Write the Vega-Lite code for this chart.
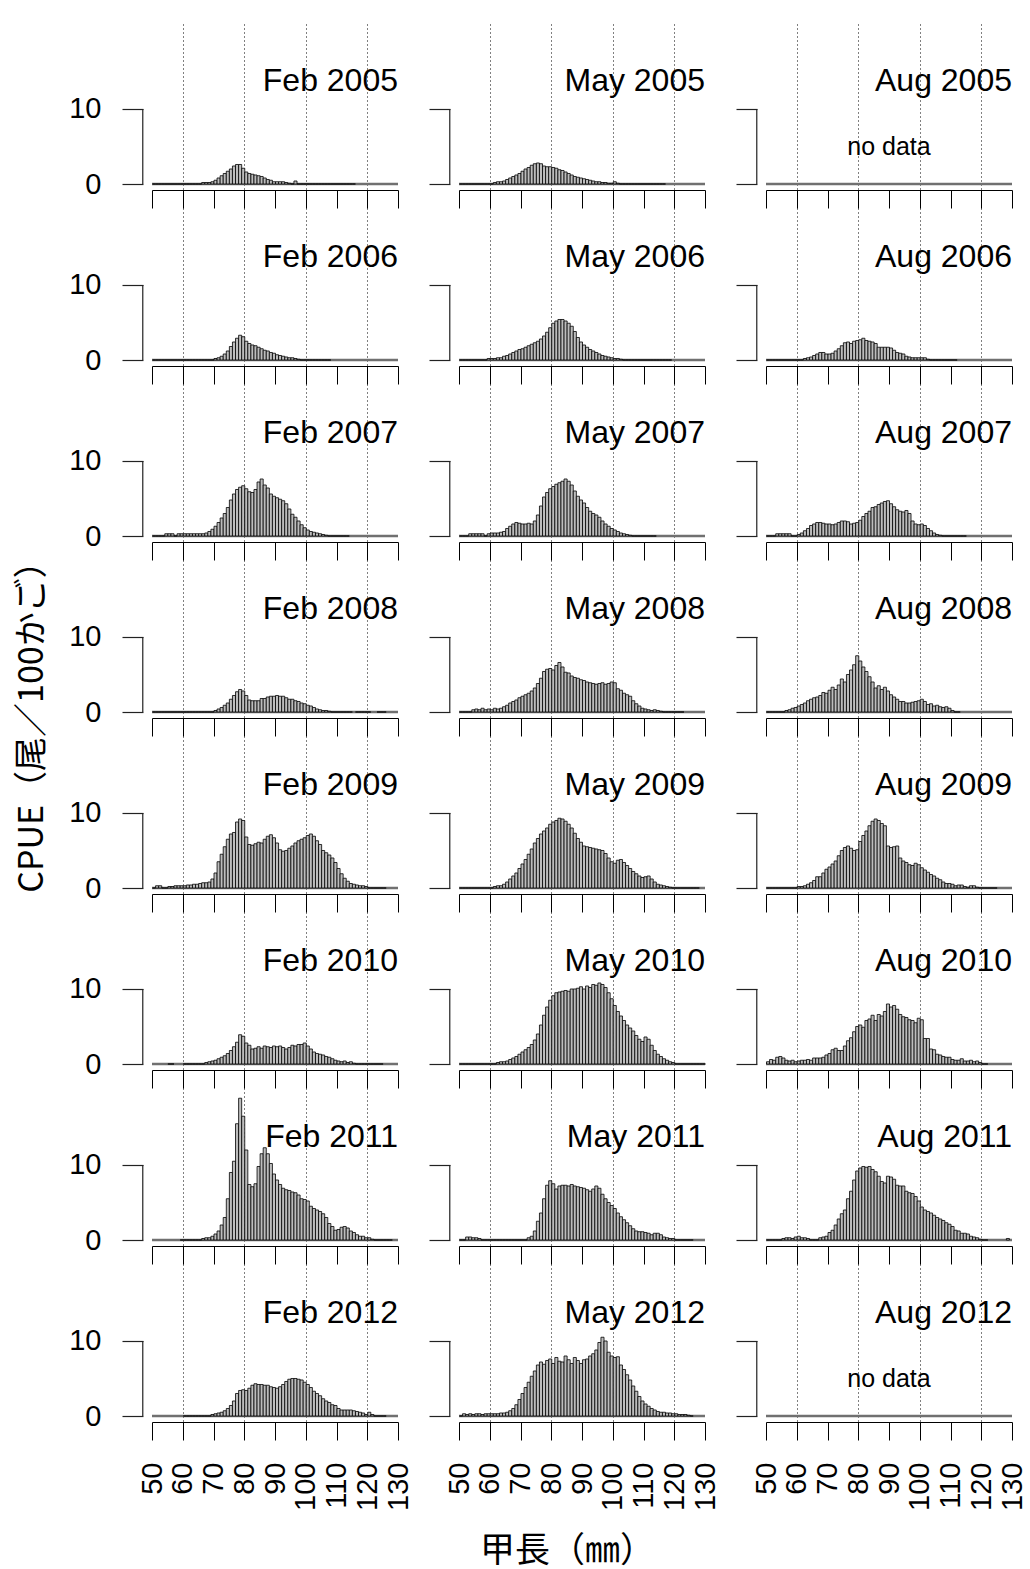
{
"$schema":"https://vega.github.io/schema/vega-lite/v6.json",
"padding":{"left":15,"top":18,"right":10,"bottom":5},
"background":"white",
"columns":3,
"spacing":{"row":10,"column":61},
"bounds":"flush",
"config":{
"view":{"stroke":null},
"axis":{"labelFont":"Liberation Sans","labelFontSize":29,"labelColor":"#000","labelOverlap":false,"labelFlush":false,"titleFont":"Noto Sans CJK JP","titleFontSize":34,"titleColor":"#000","titleFontWeight":"normal"},
"axisX":{"offset":6,"tickSize":18,"domainColor":"#000","domainWidth":1,"tickColor":"#000","tickWidth":1,"grid":true,"gridColor":"#000","gridDash":[1,3],"gridWidth":1,"labelAngle":270,"labelPadding":22},
"axisY":{"offset":9,"tickSize":21,"domain":false,"grid":false,"tickColor":"#222","tickWidth":1.2,"labelPadding":21}
},
"concat":[
{"width":246,"height":166,"layer":[{"data":{"values":[{}]},"mark":{"type":"rule","color":"#707070","strokeWidth":2.5},"encoding":{"y":{"datum":0}}},{"data":{"name":"feb2005"},"mark":{"type":"bar","fill":"#bdbdbd","stroke":"#000","strokeWidth":0.8,"binSpacing":0},"encoding":{"x":{"field":"len","type":"quantitative","bin":{"step":1,"extent":[50,131]},"scale":{"domain":[50,130]},"axis":{"values":[50,60,70,80,90,100,110,120,130],"title":null,"labels":false,"gridOpacity":{"condition":{"test":"datum.value==60||datum.value==80||datum.value==100||datum.value==120","value":1},"value":0}}},"y":{"field":"cpue","type":"quantitative","scale":{"domain":[0,22.13],"nice":false},"axis":{"values":[0,10],"title":null,"labels":true}}}},{"data":{"values":[{}]},"mark":{"type":"rule","color":"#222","strokeWidth":1.2},"encoding":{"x":{"datum":47},"y":{"datum":0},"y2":{"datum":10}}},{"data":{"values":[{}]},"mark":{"type":"text","align":"right","baseline":"alphabetic","fontSize":32,"font":"Liberation Sans","color":"#000"},"encoding":{"x":{"datum":130},"y":{"datum":12.4},"text":{"value":"Feb 2005"}}}]},
{"width":246,"height":166,"layer":[{"data":{"values":[{}]},"mark":{"type":"rule","color":"#707070","strokeWidth":2.5},"encoding":{"y":{"datum":0}}},{"data":{"name":"may2005"},"mark":{"type":"bar","fill":"#bdbdbd","stroke":"#000","strokeWidth":0.8,"binSpacing":0},"encoding":{"x":{"field":"len","type":"quantitative","bin":{"step":1,"extent":[50,131]},"scale":{"domain":[50,130]},"axis":{"values":[50,60,70,80,90,100,110,120,130],"title":null,"labels":false,"gridOpacity":{"condition":{"test":"datum.value==60||datum.value==80||datum.value==100||datum.value==120","value":1},"value":0}}},"y":{"field":"cpue","type":"quantitative","scale":{"domain":[0,22.13],"nice":false},"axis":{"values":[0,10],"title":null,"labels":false}}}},{"data":{"values":[{}]},"mark":{"type":"rule","color":"#222","strokeWidth":1.2},"encoding":{"x":{"datum":47},"y":{"datum":0},"y2":{"datum":10}}},{"data":{"values":[{}]},"mark":{"type":"text","align":"right","baseline":"alphabetic","fontSize":32,"font":"Liberation Sans","color":"#000"},"encoding":{"x":{"datum":130},"y":{"datum":12.4},"text":{"value":"May 2005"}}}]},
{"width":246,"height":166,"layer":[{"data":{"values":[{}]},"mark":{"type":"rule","color":"#707070","strokeWidth":2.5},"encoding":{"y":{"datum":0}}},{"data":{"name":"aug2005"},"mark":{"type":"bar","fill":"#bdbdbd","stroke":"#000","strokeWidth":0.8,"binSpacing":0},"encoding":{"x":{"field":"len","type":"quantitative","bin":{"step":1,"extent":[50,131]},"scale":{"domain":[50,130]},"axis":{"values":[50,60,70,80,90,100,110,120,130],"title":null,"labels":false,"gridOpacity":{"condition":{"test":"datum.value==60||datum.value==80||datum.value==100||datum.value==120","value":1},"value":0}}},"y":{"field":"cpue","type":"quantitative","scale":{"domain":[0,22.13],"nice":false},"axis":{"values":[0,10],"title":null,"labels":false}}}},{"data":{"values":[{}]},"mark":{"type":"rule","color":"#222","strokeWidth":1.2},"encoding":{"x":{"datum":47},"y":{"datum":0},"y2":{"datum":10}}},{"data":{"values":[{}]},"mark":{"type":"text","align":"right","baseline":"alphabetic","fontSize":32,"font":"Liberation Sans","color":"#000"},"encoding":{"x":{"datum":130},"y":{"datum":12.4},"text":{"value":"Aug 2005"}}},{"data":{"values":[{}]},"mark":{"type":"text","align":"center","baseline":"middle","fontSize":25,"font":"Liberation Sans","color":"#000"},"encoding":{"x":{"datum":90},"y":{"datum":4.9},"text":{"value":"no data"}}}]},
{"width":246,"height":166,"layer":[{"data":{"values":[{}]},"mark":{"type":"rule","color":"#707070","strokeWidth":2.5},"encoding":{"y":{"datum":0}}},{"data":{"name":"feb2006"},"mark":{"type":"bar","fill":"#bdbdbd","stroke":"#000","strokeWidth":0.8,"binSpacing":0},"encoding":{"x":{"field":"len","type":"quantitative","bin":{"step":1,"extent":[50,131]},"scale":{"domain":[50,130]},"axis":{"values":[50,60,70,80,90,100,110,120,130],"title":null,"labels":false,"gridOpacity":{"condition":{"test":"datum.value==60||datum.value==80||datum.value==100||datum.value==120","value":1},"value":0}}},"y":{"field":"cpue","type":"quantitative","scale":{"domain":[0,22.13],"nice":false},"axis":{"values":[0,10],"title":null,"labels":true}}}},{"data":{"values":[{}]},"mark":{"type":"rule","color":"#222","strokeWidth":1.2},"encoding":{"x":{"datum":47},"y":{"datum":0},"y2":{"datum":10}}},{"data":{"values":[{}]},"mark":{"type":"text","align":"right","baseline":"alphabetic","fontSize":32,"font":"Liberation Sans","color":"#000"},"encoding":{"x":{"datum":130},"y":{"datum":12.4},"text":{"value":"Feb 2006"}}}]},
{"width":246,"height":166,"layer":[{"data":{"values":[{}]},"mark":{"type":"rule","color":"#707070","strokeWidth":2.5},"encoding":{"y":{"datum":0}}},{"data":{"name":"may2006"},"mark":{"type":"bar","fill":"#bdbdbd","stroke":"#000","strokeWidth":0.8,"binSpacing":0},"encoding":{"x":{"field":"len","type":"quantitative","bin":{"step":1,"extent":[50,131]},"scale":{"domain":[50,130]},"axis":{"values":[50,60,70,80,90,100,110,120,130],"title":null,"labels":false,"gridOpacity":{"condition":{"test":"datum.value==60||datum.value==80||datum.value==100||datum.value==120","value":1},"value":0}}},"y":{"field":"cpue","type":"quantitative","scale":{"domain":[0,22.13],"nice":false},"axis":{"values":[0,10],"title":null,"labels":false}}}},{"data":{"values":[{}]},"mark":{"type":"rule","color":"#222","strokeWidth":1.2},"encoding":{"x":{"datum":47},"y":{"datum":0},"y2":{"datum":10}}},{"data":{"values":[{}]},"mark":{"type":"text","align":"right","baseline":"alphabetic","fontSize":32,"font":"Liberation Sans","color":"#000"},"encoding":{"x":{"datum":130},"y":{"datum":12.4},"text":{"value":"May 2006"}}}]},
{"width":246,"height":166,"layer":[{"data":{"values":[{}]},"mark":{"type":"rule","color":"#707070","strokeWidth":2.5},"encoding":{"y":{"datum":0}}},{"data":{"name":"aug2006"},"mark":{"type":"bar","fill":"#bdbdbd","stroke":"#000","strokeWidth":0.8,"binSpacing":0},"encoding":{"x":{"field":"len","type":"quantitative","bin":{"step":1,"extent":[50,131]},"scale":{"domain":[50,130]},"axis":{"values":[50,60,70,80,90,100,110,120,130],"title":null,"labels":false,"gridOpacity":{"condition":{"test":"datum.value==60||datum.value==80||datum.value==100||datum.value==120","value":1},"value":0}}},"y":{"field":"cpue","type":"quantitative","scale":{"domain":[0,22.13],"nice":false},"axis":{"values":[0,10],"title":null,"labels":false}}}},{"data":{"values":[{}]},"mark":{"type":"rule","color":"#222","strokeWidth":1.2},"encoding":{"x":{"datum":47},"y":{"datum":0},"y2":{"datum":10}}},{"data":{"values":[{}]},"mark":{"type":"text","align":"right","baseline":"alphabetic","fontSize":32,"font":"Liberation Sans","color":"#000"},"encoding":{"x":{"datum":130},"y":{"datum":12.4},"text":{"value":"Aug 2006"}}}]},
{"width":246,"height":166,"layer":[{"data":{"values":[{}]},"mark":{"type":"rule","color":"#707070","strokeWidth":2.5},"encoding":{"y":{"datum":0}}},{"data":{"name":"feb2007"},"mark":{"type":"bar","fill":"#bdbdbd","stroke":"#000","strokeWidth":0.8,"binSpacing":0},"encoding":{"x":{"field":"len","type":"quantitative","bin":{"step":1,"extent":[50,131]},"scale":{"domain":[50,130]},"axis":{"values":[50,60,70,80,90,100,110,120,130],"title":null,"labels":false,"gridOpacity":{"condition":{"test":"datum.value==60||datum.value==80||datum.value==100||datum.value==120","value":1},"value":0}}},"y":{"field":"cpue","type":"quantitative","scale":{"domain":[0,22.13],"nice":false},"axis":{"values":[0,10],"title":null,"labels":true}}}},{"data":{"values":[{}]},"mark":{"type":"rule","color":"#222","strokeWidth":1.2},"encoding":{"x":{"datum":47},"y":{"datum":0},"y2":{"datum":10}}},{"data":{"values":[{}]},"mark":{"type":"text","align":"right","baseline":"alphabetic","fontSize":32,"font":"Liberation Sans","color":"#000"},"encoding":{"x":{"datum":130},"y":{"datum":12.4},"text":{"value":"Feb 2007"}}}]},
{"width":246,"height":166,"layer":[{"data":{"values":[{}]},"mark":{"type":"rule","color":"#707070","strokeWidth":2.5},"encoding":{"y":{"datum":0}}},{"data":{"name":"may2007"},"mark":{"type":"bar","fill":"#bdbdbd","stroke":"#000","strokeWidth":0.8,"binSpacing":0},"encoding":{"x":{"field":"len","type":"quantitative","bin":{"step":1,"extent":[50,131]},"scale":{"domain":[50,130]},"axis":{"values":[50,60,70,80,90,100,110,120,130],"title":null,"labels":false,"gridOpacity":{"condition":{"test":"datum.value==60||datum.value==80||datum.value==100||datum.value==120","value":1},"value":0}}},"y":{"field":"cpue","type":"quantitative","scale":{"domain":[0,22.13],"nice":false},"axis":{"values":[0,10],"title":null,"labels":false}}}},{"data":{"values":[{}]},"mark":{"type":"rule","color":"#222","strokeWidth":1.2},"encoding":{"x":{"datum":47},"y":{"datum":0},"y2":{"datum":10}}},{"data":{"values":[{}]},"mark":{"type":"text","align":"right","baseline":"alphabetic","fontSize":32,"font":"Liberation Sans","color":"#000"},"encoding":{"x":{"datum":130},"y":{"datum":12.4},"text":{"value":"May 2007"}}}]},
{"width":246,"height":166,"layer":[{"data":{"values":[{}]},"mark":{"type":"rule","color":"#707070","strokeWidth":2.5},"encoding":{"y":{"datum":0}}},{"data":{"name":"aug2007"},"mark":{"type":"bar","fill":"#bdbdbd","stroke":"#000","strokeWidth":0.8,"binSpacing":0},"encoding":{"x":{"field":"len","type":"quantitative","bin":{"step":1,"extent":[50,131]},"scale":{"domain":[50,130]},"axis":{"values":[50,60,70,80,90,100,110,120,130],"title":null,"labels":false,"gridOpacity":{"condition":{"test":"datum.value==60||datum.value==80||datum.value==100||datum.value==120","value":1},"value":0}}},"y":{"field":"cpue","type":"quantitative","scale":{"domain":[0,22.13],"nice":false},"axis":{"values":[0,10],"title":null,"labels":false}}}},{"data":{"values":[{}]},"mark":{"type":"rule","color":"#222","strokeWidth":1.2},"encoding":{"x":{"datum":47},"y":{"datum":0},"y2":{"datum":10}}},{"data":{"values":[{}]},"mark":{"type":"text","align":"right","baseline":"alphabetic","fontSize":32,"font":"Liberation Sans","color":"#000"},"encoding":{"x":{"datum":130},"y":{"datum":12.4},"text":{"value":"Aug 2007"}}}]},
{"width":246,"height":166,"layer":[{"data":{"values":[{}]},"mark":{"type":"rule","color":"#707070","strokeWidth":2.5},"encoding":{"y":{"datum":0}}},{"data":{"name":"feb2008"},"mark":{"type":"bar","fill":"#bdbdbd","stroke":"#000","strokeWidth":0.8,"binSpacing":0},"encoding":{"x":{"field":"len","type":"quantitative","bin":{"step":1,"extent":[50,131]},"scale":{"domain":[50,130]},"axis":{"values":[50,60,70,80,90,100,110,120,130],"title":null,"labels":false,"gridOpacity":{"condition":{"test":"datum.value==60||datum.value==80||datum.value==100||datum.value==120","value":1},"value":0}}},"y":{"field":"cpue","type":"quantitative","scale":{"domain":[0,22.13],"nice":false},"axis":{"values":[0,10],"labels":true,"title":"CPUE（尾／100かご）","titleX":-111,"titleY":172,"titleAngle":270,"titleAlign":"center","titleBaseline":"middle"}}}},{"data":{"values":[{}]},"mark":{"type":"rule","color":"#222","strokeWidth":1.2},"encoding":{"x":{"datum":47},"y":{"datum":0},"y2":{"datum":10}}},{"data":{"values":[{}]},"mark":{"type":"text","align":"right","baseline":"alphabetic","fontSize":32,"font":"Liberation Sans","color":"#000"},"encoding":{"x":{"datum":130},"y":{"datum":12.4},"text":{"value":"Feb 2008"}}}]},
{"width":246,"height":166,"layer":[{"data":{"values":[{}]},"mark":{"type":"rule","color":"#707070","strokeWidth":2.5},"encoding":{"y":{"datum":0}}},{"data":{"name":"may2008"},"mark":{"type":"bar","fill":"#bdbdbd","stroke":"#000","strokeWidth":0.8,"binSpacing":0},"encoding":{"x":{"field":"len","type":"quantitative","bin":{"step":1,"extent":[50,131]},"scale":{"domain":[50,130]},"axis":{"values":[50,60,70,80,90,100,110,120,130],"title":null,"labels":false,"gridOpacity":{"condition":{"test":"datum.value==60||datum.value==80||datum.value==100||datum.value==120","value":1},"value":0}}},"y":{"field":"cpue","type":"quantitative","scale":{"domain":[0,22.13],"nice":false},"axis":{"values":[0,10],"title":null,"labels":false}}}},{"data":{"values":[{}]},"mark":{"type":"rule","color":"#222","strokeWidth":1.2},"encoding":{"x":{"datum":47},"y":{"datum":0},"y2":{"datum":10}}},{"data":{"values":[{}]},"mark":{"type":"text","align":"right","baseline":"alphabetic","fontSize":32,"font":"Liberation Sans","color":"#000"},"encoding":{"x":{"datum":130},"y":{"datum":12.4},"text":{"value":"May 2008"}}}]},
{"width":246,"height":166,"layer":[{"data":{"values":[{}]},"mark":{"type":"rule","color":"#707070","strokeWidth":2.5},"encoding":{"y":{"datum":0}}},{"data":{"name":"aug2008"},"mark":{"type":"bar","fill":"#bdbdbd","stroke":"#000","strokeWidth":0.8,"binSpacing":0},"encoding":{"x":{"field":"len","type":"quantitative","bin":{"step":1,"extent":[50,131]},"scale":{"domain":[50,130]},"axis":{"values":[50,60,70,80,90,100,110,120,130],"title":null,"labels":false,"gridOpacity":{"condition":{"test":"datum.value==60||datum.value==80||datum.value==100||datum.value==120","value":1},"value":0}}},"y":{"field":"cpue","type":"quantitative","scale":{"domain":[0,22.13],"nice":false},"axis":{"values":[0,10],"title":null,"labels":false}}}},{"data":{"values":[{}]},"mark":{"type":"rule","color":"#222","strokeWidth":1.2},"encoding":{"x":{"datum":47},"y":{"datum":0},"y2":{"datum":10}}},{"data":{"values":[{}]},"mark":{"type":"text","align":"right","baseline":"alphabetic","fontSize":32,"font":"Liberation Sans","color":"#000"},"encoding":{"x":{"datum":130},"y":{"datum":12.4},"text":{"value":"Aug 2008"}}}]},
{"width":246,"height":166,"layer":[{"data":{"values":[{}]},"mark":{"type":"rule","color":"#707070","strokeWidth":2.5},"encoding":{"y":{"datum":0}}},{"data":{"name":"feb2009"},"mark":{"type":"bar","fill":"#bdbdbd","stroke":"#000","strokeWidth":0.8,"binSpacing":0},"encoding":{"x":{"field":"len","type":"quantitative","bin":{"step":1,"extent":[50,131]},"scale":{"domain":[50,130]},"axis":{"values":[50,60,70,80,90,100,110,120,130],"title":null,"labels":false,"gridOpacity":{"condition":{"test":"datum.value==60||datum.value==80||datum.value==100||datum.value==120","value":1},"value":0}}},"y":{"field":"cpue","type":"quantitative","scale":{"domain":[0,22.13],"nice":false},"axis":{"values":[0,10],"title":null,"labels":true}}}},{"data":{"values":[{}]},"mark":{"type":"rule","color":"#222","strokeWidth":1.2},"encoding":{"x":{"datum":47},"y":{"datum":0},"y2":{"datum":10}}},{"data":{"values":[{}]},"mark":{"type":"text","align":"right","baseline":"alphabetic","fontSize":32,"font":"Liberation Sans","color":"#000"},"encoding":{"x":{"datum":130},"y":{"datum":12.4},"text":{"value":"Feb 2009"}}}]},
{"width":246,"height":166,"layer":[{"data":{"values":[{}]},"mark":{"type":"rule","color":"#707070","strokeWidth":2.5},"encoding":{"y":{"datum":0}}},{"data":{"name":"may2009"},"mark":{"type":"bar","fill":"#bdbdbd","stroke":"#000","strokeWidth":0.8,"binSpacing":0},"encoding":{"x":{"field":"len","type":"quantitative","bin":{"step":1,"extent":[50,131]},"scale":{"domain":[50,130]},"axis":{"values":[50,60,70,80,90,100,110,120,130],"title":null,"labels":false,"gridOpacity":{"condition":{"test":"datum.value==60||datum.value==80||datum.value==100||datum.value==120","value":1},"value":0}}},"y":{"field":"cpue","type":"quantitative","scale":{"domain":[0,22.13],"nice":false},"axis":{"values":[0,10],"title":null,"labels":false}}}},{"data":{"values":[{}]},"mark":{"type":"rule","color":"#222","strokeWidth":1.2},"encoding":{"x":{"datum":47},"y":{"datum":0},"y2":{"datum":10}}},{"data":{"values":[{}]},"mark":{"type":"text","align":"right","baseline":"alphabetic","fontSize":32,"font":"Liberation Sans","color":"#000"},"encoding":{"x":{"datum":130},"y":{"datum":12.4},"text":{"value":"May 2009"}}}]},
{"width":246,"height":166,"layer":[{"data":{"values":[{}]},"mark":{"type":"rule","color":"#707070","strokeWidth":2.5},"encoding":{"y":{"datum":0}}},{"data":{"name":"aug2009"},"mark":{"type":"bar","fill":"#bdbdbd","stroke":"#000","strokeWidth":0.8,"binSpacing":0},"encoding":{"x":{"field":"len","type":"quantitative","bin":{"step":1,"extent":[50,131]},"scale":{"domain":[50,130]},"axis":{"values":[50,60,70,80,90,100,110,120,130],"title":null,"labels":false,"gridOpacity":{"condition":{"test":"datum.value==60||datum.value==80||datum.value==100||datum.value==120","value":1},"value":0}}},"y":{"field":"cpue","type":"quantitative","scale":{"domain":[0,22.13],"nice":false},"axis":{"values":[0,10],"title":null,"labels":false}}}},{"data":{"values":[{}]},"mark":{"type":"rule","color":"#222","strokeWidth":1.2},"encoding":{"x":{"datum":47},"y":{"datum":0},"y2":{"datum":10}}},{"data":{"values":[{}]},"mark":{"type":"text","align":"right","baseline":"alphabetic","fontSize":32,"font":"Liberation Sans","color":"#000"},"encoding":{"x":{"datum":130},"y":{"datum":12.4},"text":{"value":"Aug 2009"}}}]},
{"width":246,"height":166,"layer":[{"data":{"values":[{}]},"mark":{"type":"rule","color":"#707070","strokeWidth":2.5},"encoding":{"y":{"datum":0}}},{"data":{"name":"feb2010"},"mark":{"type":"bar","fill":"#bdbdbd","stroke":"#000","strokeWidth":0.8,"binSpacing":0},"encoding":{"x":{"field":"len","type":"quantitative","bin":{"step":1,"extent":[50,131]},"scale":{"domain":[50,130]},"axis":{"values":[50,60,70,80,90,100,110,120,130],"title":null,"labels":false,"gridOpacity":{"condition":{"test":"datum.value==60||datum.value==80||datum.value==100||datum.value==120","value":1},"value":0}}},"y":{"field":"cpue","type":"quantitative","scale":{"domain":[0,22.13],"nice":false},"axis":{"values":[0,10],"title":null,"labels":true}}}},{"data":{"values":[{}]},"mark":{"type":"rule","color":"#222","strokeWidth":1.2},"encoding":{"x":{"datum":47},"y":{"datum":0},"y2":{"datum":10}}},{"data":{"values":[{}]},"mark":{"type":"text","align":"right","baseline":"alphabetic","fontSize":32,"font":"Liberation Sans","color":"#000"},"encoding":{"x":{"datum":130},"y":{"datum":12.4},"text":{"value":"Feb 2010"}}}]},
{"width":246,"height":166,"layer":[{"data":{"values":[{}]},"mark":{"type":"rule","color":"#707070","strokeWidth":2.5},"encoding":{"y":{"datum":0}}},{"data":{"name":"may2010"},"mark":{"type":"bar","fill":"#bdbdbd","stroke":"#000","strokeWidth":0.8,"binSpacing":0},"encoding":{"x":{"field":"len","type":"quantitative","bin":{"step":1,"extent":[50,131]},"scale":{"domain":[50,130]},"axis":{"values":[50,60,70,80,90,100,110,120,130],"title":null,"labels":false,"gridOpacity":{"condition":{"test":"datum.value==60||datum.value==80||datum.value==100||datum.value==120","value":1},"value":0}}},"y":{"field":"cpue","type":"quantitative","scale":{"domain":[0,22.13],"nice":false},"axis":{"values":[0,10],"title":null,"labels":false}}}},{"data":{"values":[{}]},"mark":{"type":"rule","color":"#222","strokeWidth":1.2},"encoding":{"x":{"datum":47},"y":{"datum":0},"y2":{"datum":10}}},{"data":{"values":[{}]},"mark":{"type":"text","align":"right","baseline":"alphabetic","fontSize":32,"font":"Liberation Sans","color":"#000"},"encoding":{"x":{"datum":130},"y":{"datum":12.4},"text":{"value":"May 2010"}}}]},
{"width":246,"height":166,"layer":[{"data":{"values":[{}]},"mark":{"type":"rule","color":"#707070","strokeWidth":2.5},"encoding":{"y":{"datum":0}}},{"data":{"name":"aug2010"},"mark":{"type":"bar","fill":"#bdbdbd","stroke":"#000","strokeWidth":0.8,"binSpacing":0},"encoding":{"x":{"field":"len","type":"quantitative","bin":{"step":1,"extent":[50,131]},"scale":{"domain":[50,130]},"axis":{"values":[50,60,70,80,90,100,110,120,130],"title":null,"labels":false,"gridOpacity":{"condition":{"test":"datum.value==60||datum.value==80||datum.value==100||datum.value==120","value":1},"value":0}}},"y":{"field":"cpue","type":"quantitative","scale":{"domain":[0,22.13],"nice":false},"axis":{"values":[0,10],"title":null,"labels":false}}}},{"data":{"values":[{}]},"mark":{"type":"rule","color":"#222","strokeWidth":1.2},"encoding":{"x":{"datum":47},"y":{"datum":0},"y2":{"datum":10}}},{"data":{"values":[{}]},"mark":{"type":"text","align":"right","baseline":"alphabetic","fontSize":32,"font":"Liberation Sans","color":"#000"},"encoding":{"x":{"datum":130},"y":{"datum":12.4},"text":{"value":"Aug 2010"}}}]},
{"width":246,"height":166,"layer":[{"data":{"values":[{}]},"mark":{"type":"rule","color":"#707070","strokeWidth":2.5},"encoding":{"y":{"datum":0}}},{"data":{"name":"feb2011"},"mark":{"type":"bar","fill":"#bdbdbd","stroke":"#000","strokeWidth":0.8,"binSpacing":0},"encoding":{"x":{"field":"len","type":"quantitative","bin":{"step":1,"extent":[50,131]},"scale":{"domain":[50,130]},"axis":{"values":[50,60,70,80,90,100,110,120,130],"title":null,"labels":false,"gridOpacity":{"condition":{"test":"datum.value==60||datum.value==80||datum.value==100||datum.value==120","value":1},"value":0}}},"y":{"field":"cpue","type":"quantitative","scale":{"domain":[0,22.13],"nice":false},"axis":{"values":[0,10],"title":null,"labels":true}}}},{"data":{"values":[{}]},"mark":{"type":"rule","color":"#222","strokeWidth":1.2},"encoding":{"x":{"datum":47},"y":{"datum":0},"y2":{"datum":10}}},{"data":{"values":[{}]},"mark":{"type":"text","align":"right","baseline":"alphabetic","fontSize":32,"font":"Liberation Sans","color":"#000"},"encoding":{"x":{"datum":130},"y":{"datum":12.4},"text":{"value":"Feb 2011"}}}]},
{"width":246,"height":166,"layer":[{"data":{"values":[{}]},"mark":{"type":"rule","color":"#707070","strokeWidth":2.5},"encoding":{"y":{"datum":0}}},{"data":{"name":"may2011"},"mark":{"type":"bar","fill":"#bdbdbd","stroke":"#000","strokeWidth":0.8,"binSpacing":0},"encoding":{"x":{"field":"len","type":"quantitative","bin":{"step":1,"extent":[50,131]},"scale":{"domain":[50,130]},"axis":{"values":[50,60,70,80,90,100,110,120,130],"title":null,"labels":false,"gridOpacity":{"condition":{"test":"datum.value==60||datum.value==80||datum.value==100||datum.value==120","value":1},"value":0}}},"y":{"field":"cpue","type":"quantitative","scale":{"domain":[0,22.13],"nice":false},"axis":{"values":[0,10],"title":null,"labels":false}}}},{"data":{"values":[{}]},"mark":{"type":"rule","color":"#222","strokeWidth":1.2},"encoding":{"x":{"datum":47},"y":{"datum":0},"y2":{"datum":10}}},{"data":{"values":[{}]},"mark":{"type":"text","align":"right","baseline":"alphabetic","fontSize":32,"font":"Liberation Sans","color":"#000"},"encoding":{"x":{"datum":130},"y":{"datum":12.4},"text":{"value":"May 2011"}}}]},
{"width":246,"height":166,"layer":[{"data":{"values":[{}]},"mark":{"type":"rule","color":"#707070","strokeWidth":2.5},"encoding":{"y":{"datum":0}}},{"data":{"name":"aug2011"},"mark":{"type":"bar","fill":"#bdbdbd","stroke":"#000","strokeWidth":0.8,"binSpacing":0},"encoding":{"x":{"field":"len","type":"quantitative","bin":{"step":1,"extent":[50,131]},"scale":{"domain":[50,130]},"axis":{"values":[50,60,70,80,90,100,110,120,130],"title":null,"labels":false,"gridOpacity":{"condition":{"test":"datum.value==60||datum.value==80||datum.value==100||datum.value==120","value":1},"value":0}}},"y":{"field":"cpue","type":"quantitative","scale":{"domain":[0,22.13],"nice":false},"axis":{"values":[0,10],"title":null,"labels":false}}}},{"data":{"values":[{}]},"mark":{"type":"rule","color":"#222","strokeWidth":1.2},"encoding":{"x":{"datum":47},"y":{"datum":0},"y2":{"datum":10}}},{"data":{"values":[{}]},"mark":{"type":"text","align":"right","baseline":"alphabetic","fontSize":32,"font":"Liberation Sans","color":"#000"},"encoding":{"x":{"datum":130},"y":{"datum":12.4},"text":{"value":"Aug 2011"}}}]},
{"width":246,"height":166,"layer":[{"data":{"values":[{}]},"mark":{"type":"rule","color":"#707070","strokeWidth":2.5},"encoding":{"y":{"datum":0}}},{"data":{"name":"feb2012"},"mark":{"type":"bar","fill":"#bdbdbd","stroke":"#000","strokeWidth":0.8,"binSpacing":0},"encoding":{"x":{"field":"len","type":"quantitative","bin":{"step":1,"extent":[50,131]},"scale":{"domain":[50,130]},"axis":{"values":[50,60,70,80,90,100,110,120,130],"title":null,"labels":true,"gridOpacity":{"condition":{"test":"datum.value==60||datum.value==80||datum.value==100||datum.value==120","value":1},"value":0}}},"y":{"field":"cpue","type":"quantitative","scale":{"domain":[0,22.13],"nice":false},"axis":{"values":[0,10],"title":null,"labels":true}}}},{"data":{"values":[{}]},"mark":{"type":"rule","color":"#222","strokeWidth":1.2},"encoding":{"x":{"datum":47},"y":{"datum":0},"y2":{"datum":10}}},{"data":{"values":[{}]},"mark":{"type":"text","align":"right","baseline":"alphabetic","fontSize":32,"font":"Liberation Sans","color":"#000"},"encoding":{"x":{"datum":130},"y":{"datum":12.4},"text":{"value":"Feb 2012"}}}]},
{"width":246,"height":166,"layer":[{"data":{"values":[{}]},"mark":{"type":"rule","color":"#707070","strokeWidth":2.5},"encoding":{"y":{"datum":0}}},{"data":{"name":"may2012"},"mark":{"type":"bar","fill":"#bdbdbd","stroke":"#000","strokeWidth":0.8,"binSpacing":0},"encoding":{"x":{"field":"len","type":"quantitative","bin":{"step":1,"extent":[50,131]},"scale":{"domain":[50,130]},"axis":{"values":[50,60,70,80,90,100,110,120,130],"labels":true,"title":"甲長（㎜）","titleX":108,"titleY":128,"titleAngle":0,"titleAlign":"center","titleBaseline":"middle","titleFontSize":35,"gridOpacity":{"condition":{"test":"datum.value==60||datum.value==80||datum.value==100||datum.value==120","value":1},"value":0}}},"y":{"field":"cpue","type":"quantitative","scale":{"domain":[0,22.13],"nice":false},"axis":{"values":[0,10],"title":null,"labels":false}}}},{"data":{"values":[{}]},"mark":{"type":"rule","color":"#222","strokeWidth":1.2},"encoding":{"x":{"datum":47},"y":{"datum":0},"y2":{"datum":10}}},{"data":{"values":[{}]},"mark":{"type":"text","align":"right","baseline":"alphabetic","fontSize":32,"font":"Liberation Sans","color":"#000"},"encoding":{"x":{"datum":130},"y":{"datum":12.4},"text":{"value":"May 2012"}}}]},
{"width":246,"height":166,"layer":[{"data":{"values":[{}]},"mark":{"type":"rule","color":"#707070","strokeWidth":2.5},"encoding":{"y":{"datum":0}}},{"data":{"name":"aug2012"},"mark":{"type":"bar","fill":"#bdbdbd","stroke":"#000","strokeWidth":0.8,"binSpacing":0},"encoding":{"x":{"field":"len","type":"quantitative","bin":{"step":1,"extent":[50,131]},"scale":{"domain":[50,130]},"axis":{"values":[50,60,70,80,90,100,110,120,130],"title":null,"labels":true,"gridOpacity":{"condition":{"test":"datum.value==60||datum.value==80||datum.value==100||datum.value==120","value":1},"value":0}}},"y":{"field":"cpue","type":"quantitative","scale":{"domain":[0,22.13],"nice":false},"axis":{"values":[0,10],"title":null,"labels":false}}}},{"data":{"values":[{}]},"mark":{"type":"rule","color":"#222","strokeWidth":1.2},"encoding":{"x":{"datum":47},"y":{"datum":0},"y2":{"datum":10}}},{"data":{"values":[{}]},"mark":{"type":"text","align":"right","baseline":"alphabetic","fontSize":32,"font":"Liberation Sans","color":"#000"},"encoding":{"x":{"datum":130},"y":{"datum":12.4},"text":{"value":"Aug 2012"}}},{"data":{"values":[{}]},"mark":{"type":"text","align":"center","baseline":"middle","fontSize":25,"font":"Liberation Sans","color":"#000"},"encoding":{"x":{"datum":90},"y":{"datum":4.9},"text":{"value":"no data"}}}]}
],
"datasets":{
"aug2005":[],
"aug2012":[],
"feb2005":[{"len":50,"cpue":0},{"len":51,"cpue":0},{"len":52,"cpue":0},{"len":53,"cpue":0},{"len":54,"cpue":0},{"len":55,"cpue":0},{"len":56,"cpue":0},{"len":57,"cpue":0},{"len":58,"cpue":0},{"len":59,"cpue":0},{"len":60,"cpue":0},{"len":61,"cpue":0},{"len":62,"cpue":0},{"len":63,"cpue":0},{"len":64,"cpue":0},{"len":65,"cpue":0},{"len":66,"cpue":0.2},{"len":67,"cpue":0.2},{"len":68,"cpue":0.2},{"len":69,"cpue":0.3},{"len":70,"cpue":0.5},{"len":71,"cpue":0.8},{"len":72,"cpue":1.1},{"len":73,"cpue":1.4},{"len":74,"cpue":1.7},{"len":75,"cpue":2.0},{"len":76,"cpue":2.4},{"len":77,"cpue":2.6},{"len":78,"cpue":2.6},{"len":79,"cpue":2.1},{"len":80,"cpue":1.6},{"len":81,"cpue":1.4},{"len":82,"cpue":1.3},{"len":83,"cpue":1.2},{"len":84,"cpue":1.1},{"len":85,"cpue":1.0},{"len":86,"cpue":0.8},{"len":87,"cpue":0.6},{"len":88,"cpue":0.5},{"len":89,"cpue":0.3},{"len":90,"cpue":0.3},{"len":91,"cpue":0.3},{"len":92,"cpue":0.3},{"len":93,"cpue":0.2},{"len":94,"cpue":0.1},{"len":95,"cpue":0},{"len":96,"cpue":0.4},{"len":97,"cpue":0},{"len":98,"cpue":0},{"len":99,"cpue":0},{"len":100,"cpue":0},{"len":101,"cpue":0},{"len":102,"cpue":0},{"len":103,"cpue":0},{"len":104,"cpue":0},{"len":105,"cpue":0},{"len":106,"cpue":0},{"len":107,"cpue":0},{"len":108,"cpue":0},{"len":109,"cpue":0},{"len":110,"cpue":0},{"len":111,"cpue":0},{"len":112,"cpue":0},{"len":113,"cpue":0},{"len":114,"cpue":0},{"len":115,"cpue":0}],
"may2005":[{"len":50,"cpue":0},{"len":51,"cpue":0},{"len":52,"cpue":0},{"len":53,"cpue":0},{"len":54,"cpue":0},{"len":55,"cpue":0},{"len":56,"cpue":0},{"len":57,"cpue":0},{"len":58,"cpue":0},{"len":59,"cpue":0},{"len":60,"cpue":0},{"len":61,"cpue":0.2},{"len":62,"cpue":0.3},{"len":63,"cpue":0.3},{"len":64,"cpue":0.4},{"len":65,"cpue":0.6},{"len":66,"cpue":0.8},{"len":67,"cpue":1.0},{"len":68,"cpue":1.2},{"len":69,"cpue":1.4},{"len":70,"cpue":1.7},{"len":71,"cpue":2.0},{"len":72,"cpue":2.2},{"len":73,"cpue":2.5},{"len":74,"cpue":2.7},{"len":75,"cpue":2.8},{"len":76,"cpue":2.7},{"len":77,"cpue":2.4},{"len":78,"cpue":2.3},{"len":79,"cpue":2.3},{"len":80,"cpue":2.2},{"len":81,"cpue":2.1},{"len":82,"cpue":1.9},{"len":83,"cpue":1.8},{"len":84,"cpue":1.6},{"len":85,"cpue":1.4},{"len":86,"cpue":1.2},{"len":87,"cpue":1.0},{"len":88,"cpue":0.9},{"len":89,"cpue":0.8},{"len":90,"cpue":0.7},{"len":91,"cpue":0.6},{"len":92,"cpue":0.5},{"len":93,"cpue":0.4},{"len":94,"cpue":0.3},{"len":95,"cpue":0.3},{"len":96,"cpue":0.2},{"len":97,"cpue":0.2},{"len":98,"cpue":0.1},{"len":99,"cpue":0.1},{"len":100,"cpue":0.3},{"len":101,"cpue":0.1},{"len":102,"cpue":0},{"len":103,"cpue":0},{"len":104,"cpue":0},{"len":105,"cpue":0},{"len":106,"cpue":0},{"len":107,"cpue":0},{"len":108,"cpue":0},{"len":109,"cpue":0},{"len":110,"cpue":0},{"len":111,"cpue":0},{"len":112,"cpue":0},{"len":113,"cpue":0},{"len":114,"cpue":0},{"len":115,"cpue":0},{"len":116,"cpue":0}],
"feb2006":[{"len":50,"cpue":0},{"len":51,"cpue":0},{"len":52,"cpue":0},{"len":53,"cpue":0},{"len":54,"cpue":0},{"len":55,"cpue":0},{"len":56,"cpue":0},{"len":57,"cpue":0},{"len":58,"cpue":0},{"len":59,"cpue":0},{"len":60,"cpue":0},{"len":61,"cpue":0},{"len":62,"cpue":0},{"len":63,"cpue":0},{"len":64,"cpue":0},{"len":65,"cpue":0},{"len":66,"cpue":0},{"len":67,"cpue":0},{"len":68,"cpue":0},{"len":69,"cpue":0},{"len":70,"cpue":0.2},{"len":71,"cpue":0.3},{"len":72,"cpue":0.5},{"len":73,"cpue":0.8},{"len":74,"cpue":1.2},{"len":75,"cpue":1.8},{"len":76,"cpue":2.4},{"len":77,"cpue":2.9},{"len":78,"cpue":3.3},{"len":79,"cpue":3.1},{"len":80,"cpue":2.5},{"len":81,"cpue":2.2},{"len":82,"cpue":2.0},{"len":83,"cpue":1.9},{"len":84,"cpue":1.7},{"len":85,"cpue":1.5},{"len":86,"cpue":1.3},{"len":87,"cpue":1.2},{"len":88,"cpue":1.0},{"len":89,"cpue":0.9},{"len":90,"cpue":0.7},{"len":91,"cpue":0.6},{"len":92,"cpue":0.5},{"len":93,"cpue":0.4},{"len":94,"cpue":0.3},{"len":95,"cpue":0.3},{"len":96,"cpue":0.2},{"len":97,"cpue":0.1},{"len":98,"cpue":0},{"len":99,"cpue":0},{"len":100,"cpue":0},{"len":101,"cpue":0},{"len":102,"cpue":0},{"len":103,"cpue":0},{"len":104,"cpue":0},{"len":105,"cpue":0},{"len":106,"cpue":0},{"len":107,"cpue":0}],
"may2006":[{"len":50,"cpue":0},{"len":51,"cpue":0},{"len":52,"cpue":0},{"len":53,"cpue":0},{"len":54,"cpue":0},{"len":55,"cpue":0},{"len":56,"cpue":0},{"len":57,"cpue":0},{"len":58,"cpue":0},{"len":59,"cpue":0.2},{"len":60,"cpue":0.2},{"len":61,"cpue":0.2},{"len":62,"cpue":0.3},{"len":63,"cpue":0.3},{"len":64,"cpue":0.5},{"len":65,"cpue":0.6},{"len":66,"cpue":0.8},{"len":67,"cpue":1.0},{"len":68,"cpue":1.2},{"len":69,"cpue":1.4},{"len":70,"cpue":1.5},{"len":71,"cpue":1.7},{"len":72,"cpue":1.9},{"len":73,"cpue":2.1},{"len":74,"cpue":2.3},{"len":75,"cpue":2.5},{"len":76,"cpue":2.8},{"len":77,"cpue":3.2},{"len":78,"cpue":3.7},{"len":79,"cpue":4.3},{"len":80,"cpue":4.9},{"len":81,"cpue":5.2},{"len":82,"cpue":5.4},{"len":83,"cpue":5.4},{"len":84,"cpue":5.2},{"len":85,"cpue":4.9},{"len":86,"cpue":4.5},{"len":87,"cpue":3.8},{"len":88,"cpue":3.0},{"len":89,"cpue":2.4},{"len":90,"cpue":2.0},{"len":91,"cpue":1.7},{"len":92,"cpue":1.4},{"len":93,"cpue":1.2},{"len":94,"cpue":1.0},{"len":95,"cpue":0.8},{"len":96,"cpue":0.6},{"len":97,"cpue":0.5},{"len":98,"cpue":0.4},{"len":99,"cpue":0.3},{"len":100,"cpue":0.2},{"len":101,"cpue":0.2},{"len":102,"cpue":0.1},{"len":103,"cpue":0},{"len":104,"cpue":0},{"len":105,"cpue":0},{"len":106,"cpue":0},{"len":107,"cpue":0},{"len":108,"cpue":0},{"len":109,"cpue":0},{"len":110,"cpue":0},{"len":111,"cpue":0},{"len":112,"cpue":0},{"len":113,"cpue":0},{"len":114,"cpue":0},{"len":115,"cpue":0},{"len":116,"cpue":0},{"len":117,"cpue":0},{"len":118,"cpue":0}],
"aug2006":[{"len":50,"cpue":0},{"len":51,"cpue":0},{"len":52,"cpue":0},{"len":53,"cpue":0},{"len":54,"cpue":0},{"len":55,"cpue":0},{"len":56,"cpue":0},{"len":57,"cpue":0},{"len":58,"cpue":0},{"len":59,"cpue":0},{"len":60,"cpue":0},{"len":61,"cpue":0},{"len":62,"cpue":0.2},{"len":63,"cpue":0.3},{"len":64,"cpue":0.4},{"len":65,"cpue":0.6},{"len":66,"cpue":0.8},{"len":67,"cpue":1.0},{"len":68,"cpue":1.0},{"len":69,"cpue":0.8},{"len":70,"cpue":0.8},{"len":71,"cpue":0.9},{"len":72,"cpue":1.2},{"len":73,"cpue":1.5},{"len":74,"cpue":1.9},{"len":75,"cpue":2.3},{"len":76,"cpue":2.4},{"len":77,"cpue":2.2},{"len":78,"cpue":2.5},{"len":79,"cpue":2.6},{"len":80,"cpue":2.7},{"len":81,"cpue":2.9},{"len":82,"cpue":2.6},{"len":83,"cpue":2.5},{"len":84,"cpue":2.4},{"len":85,"cpue":2.2},{"len":86,"cpue":1.7},{"len":87,"cpue":1.7},{"len":88,"cpue":1.7},{"len":89,"cpue":1.7},{"len":90,"cpue":1.6},{"len":91,"cpue":1.3},{"len":92,"cpue":1.0},{"len":93,"cpue":0.9},{"len":94,"cpue":0.8},{"len":95,"cpue":0.5},{"len":96,"cpue":0.4},{"len":97,"cpue":0.3},{"len":98,"cpue":0.3},{"len":99,"cpue":0.3},{"len":100,"cpue":0.3},{"len":101,"cpue":0.3},{"len":102,"cpue":0.1},{"len":103,"cpue":0},{"len":104,"cpue":0},{"len":105,"cpue":0},{"len":106,"cpue":0},{"len":107,"cpue":0},{"len":108,"cpue":0},{"len":109,"cpue":0},{"len":110,"cpue":0},{"len":111,"cpue":0}],
"feb2007":[{"len":50,"cpue":0},{"len":51,"cpue":0},{"len":52,"cpue":0},{"len":53,"cpue":0},{"len":54,"cpue":0.3},{"len":55,"cpue":0.3},{"len":56,"cpue":0.3},{"len":57,"cpue":0},{"len":58,"cpue":0.3},{"len":59,"cpue":0.3},{"len":60,"cpue":0.3},{"len":61,"cpue":0.3},{"len":62,"cpue":0.3},{"len":63,"cpue":0.3},{"len":64,"cpue":0.3},{"len":65,"cpue":0.3},{"len":66,"cpue":0.3},{"len":67,"cpue":0.4},{"len":68,"cpue":0.6},{"len":69,"cpue":0.9},{"len":70,"cpue":1.3},{"len":71,"cpue":1.8},{"len":72,"cpue":2.4},{"len":73,"cpue":3.0},{"len":74,"cpue":3.8},{"len":75,"cpue":4.8},{"len":76,"cpue":5.6},{"len":77,"cpue":6.2},{"len":78,"cpue":6.5},{"len":79,"cpue":6.7},{"len":80,"cpue":6.3},{"len":81,"cpue":5.9},{"len":82,"cpue":5.8},{"len":83,"cpue":6.2},{"len":84,"cpue":7.2},{"len":85,"cpue":7.6},{"len":86,"cpue":6.8},{"len":87,"cpue":6.4},{"len":88,"cpue":5.6},{"len":89,"cpue":5.3},{"len":90,"cpue":5.1},{"len":91,"cpue":4.9},{"len":92,"cpue":4.7},{"len":93,"cpue":4.3},{"len":94,"cpue":3.6},{"len":95,"cpue":2.9},{"len":96,"cpue":2.5},{"len":97,"cpue":2.0},{"len":98,"cpue":1.5},{"len":99,"cpue":1.1},{"len":100,"cpue":0.8},{"len":101,"cpue":0.6},{"len":102,"cpue":0.5},{"len":103,"cpue":0.4},{"len":104,"cpue":0.3},{"len":105,"cpue":0.2},{"len":106,"cpue":0.1},{"len":107,"cpue":0},{"len":108,"cpue":0},{"len":109,"cpue":0},{"len":110,"cpue":0},{"len":111,"cpue":0},{"len":112,"cpue":0},{"len":113,"cpue":0}],
"may2007":[{"len":50,"cpue":0},{"len":51,"cpue":0},{"len":52,"cpue":0},{"len":53,"cpue":0.3},{"len":54,"cpue":0.3},{"len":55,"cpue":0.3},{"len":56,"cpue":0.3},{"len":57,"cpue":0.3},{"len":58,"cpue":0},{"len":59,"cpue":0.3},{"len":60,"cpue":0.4},{"len":61,"cpue":0.4},{"len":62,"cpue":0.4},{"len":63,"cpue":0.5},{"len":64,"cpue":0.6},{"len":65,"cpue":1.0},{"len":66,"cpue":1.3},{"len":67,"cpue":1.6},{"len":68,"cpue":1.8},{"len":69,"cpue":1.7},{"len":70,"cpue":1.6},{"len":71,"cpue":1.6},{"len":72,"cpue":1.7},{"len":73,"cpue":1.6},{"len":74,"cpue":2.0},{"len":75,"cpue":2.8},{"len":76,"cpue":4.0},{"len":77,"cpue":5.2},{"len":78,"cpue":5.8},{"len":79,"cpue":6.3},{"len":80,"cpue":6.6},{"len":81,"cpue":6.9},{"len":82,"cpue":7.1},{"len":83,"cpue":7.3},{"len":84,"cpue":7.6},{"len":85,"cpue":7.3},{"len":86,"cpue":6.8},{"len":87,"cpue":6.0},{"len":88,"cpue":5.3},{"len":89,"cpue":4.8},{"len":90,"cpue":4.4},{"len":91,"cpue":3.8},{"len":92,"cpue":3.3},{"len":93,"cpue":3.0},{"len":94,"cpue":2.8},{"len":95,"cpue":2.5},{"len":96,"cpue":2.0},{"len":97,"cpue":1.6},{"len":98,"cpue":1.3},{"len":99,"cpue":1.0},{"len":100,"cpue":0.8},{"len":101,"cpue":0.6},{"len":102,"cpue":0.4},{"len":103,"cpue":0.3},{"len":104,"cpue":0.2},{"len":105,"cpue":0.1},{"len":106,"cpue":0},{"len":107,"cpue":0},{"len":108,"cpue":0},{"len":109,"cpue":0},{"len":110,"cpue":0},{"len":111,"cpue":0},{"len":112,"cpue":0},{"len":113,"cpue":0}],
"aug2007":[{"len":50,"cpue":0},{"len":51,"cpue":0},{"len":52,"cpue":0},{"len":53,"cpue":0.3},{"len":54,"cpue":0.3},{"len":55,"cpue":0.3},{"len":56,"cpue":0.3},{"len":57,"cpue":0.3},{"len":58,"cpue":0},{"len":59,"cpue":0},{"len":60,"cpue":0.2},{"len":61,"cpue":0.4},{"len":62,"cpue":0.7},{"len":63,"cpue":1.0},{"len":64,"cpue":1.4},{"len":65,"cpue":1.6},{"len":66,"cpue":1.8},{"len":67,"cpue":1.8},{"len":68,"cpue":1.7},{"len":69,"cpue":1.6},{"len":70,"cpue":1.6},{"len":71,"cpue":1.5},{"len":72,"cpue":1.6},{"len":73,"cpue":1.8},{"len":74,"cpue":2.0},{"len":75,"cpue":2.0},{"len":76,"cpue":1.9},{"len":77,"cpue":1.6},{"len":78,"cpue":1.7},{"len":79,"cpue":1.8},{"len":80,"cpue":2.1},{"len":81,"cpue":2.6},{"len":82,"cpue":3.0},{"len":83,"cpue":3.3},{"len":84,"cpue":3.8},{"len":85,"cpue":3.9},{"len":86,"cpue":4.2},{"len":87,"cpue":4.4},{"len":88,"cpue":4.6},{"len":89,"cpue":4.7},{"len":90,"cpue":4.3},{"len":91,"cpue":3.9},{"len":92,"cpue":3.5},{"len":93,"cpue":3.3},{"len":94,"cpue":3.2},{"len":95,"cpue":3.4},{"len":96,"cpue":3.0},{"len":97,"cpue":2.0},{"len":98,"cpue":1.6},{"len":99,"cpue":1.5},{"len":100,"cpue":1.6},{"len":101,"cpue":1.4},{"len":102,"cpue":1.0},{"len":103,"cpue":0.7},{"len":104,"cpue":0.4},{"len":105,"cpue":0.2},{"len":106,"cpue":0.1},{"len":107,"cpue":0},{"len":108,"cpue":0},{"len":109,"cpue":0},{"len":110,"cpue":0},{"len":111,"cpue":0},{"len":112,"cpue":0},{"len":113,"cpue":0},{"len":114,"cpue":0}],
"feb2008":[{"len":50,"cpue":0},{"len":51,"cpue":0},{"len":52,"cpue":0},{"len":53,"cpue":0},{"len":54,"cpue":0},{"len":55,"cpue":0},{"len":56,"cpue":0},{"len":57,"cpue":0},{"len":58,"cpue":0},{"len":59,"cpue":0},{"len":60,"cpue":0},{"len":61,"cpue":0},{"len":62,"cpue":0},{"len":63,"cpue":0},{"len":64,"cpue":0},{"len":65,"cpue":0},{"len":66,"cpue":0},{"len":67,"cpue":0},{"len":68,"cpue":0},{"len":69,"cpue":0},{"len":70,"cpue":0.2},{"len":71,"cpue":0.4},{"len":72,"cpue":0.6},{"len":73,"cpue":0.9},{"len":74,"cpue":1.2},{"len":75,"cpue":1.7},{"len":76,"cpue":2.2},{"len":77,"cpue":2.7},{"len":78,"cpue":3.0},{"len":79,"cpue":2.8},{"len":80,"cpue":2.2},{"len":81,"cpue":1.6},{"len":82,"cpue":1.5},{"len":83,"cpue":1.5},{"len":84,"cpue":1.5},{"len":85,"cpue":1.8},{"len":86,"cpue":1.8},{"len":87,"cpue":2.0},{"len":88,"cpue":2.1},{"len":89,"cpue":2.1},{"len":90,"cpue":2.2},{"len":91,"cpue":2.1},{"len":92,"cpue":2.1},{"len":93,"cpue":1.9},{"len":94,"cpue":1.7},{"len":95,"cpue":1.7},{"len":96,"cpue":1.5},{"len":97,"cpue":1.4},{"len":98,"cpue":1.2},{"len":99,"cpue":1.1},{"len":100,"cpue":0.9},{"len":101,"cpue":0.8},{"len":102,"cpue":0.6},{"len":103,"cpue":0.4},{"len":104,"cpue":0.3},{"len":105,"cpue":0.2},{"len":106,"cpue":0.2},{"len":107,"cpue":0.1},{"len":108,"cpue":0},{"len":109,"cpue":0},{"len":110,"cpue":0},{"len":111,"cpue":0},{"len":112,"cpue":0},{"len":113,"cpue":0},{"len":114,"cpue":0},{"len":116,"cpue":0},{"len":117,"cpue":0},{"len":118,"cpue":0},{"len":119,"cpue":0},{"len":120,"cpue":0},{"len":123,"cpue":0},{"len":124,"cpue":0},{"len":125,"cpue":0}],
"may2008":[{"len":50,"cpue":0},{"len":51,"cpue":0},{"len":52,"cpue":0},{"len":53,"cpue":0},{"len":54,"cpue":0.3},{"len":55,"cpue":0.4},{"len":56,"cpue":0.3},{"len":57,"cpue":0.5},{"len":58,"cpue":0.3},{"len":59,"cpue":0.4},{"len":60,"cpue":0.3},{"len":61,"cpue":0.5},{"len":62,"cpue":0.4},{"len":63,"cpue":0.5},{"len":64,"cpue":0.7},{"len":65,"cpue":0.9},{"len":66,"cpue":1.2},{"len":67,"cpue":1.4},{"len":68,"cpue":1.6},{"len":69,"cpue":1.9},{"len":70,"cpue":2.1},{"len":71,"cpue":2.3},{"len":72,"cpue":2.5},{"len":73,"cpue":2.8},{"len":74,"cpue":3.2},{"len":75,"cpue":3.8},{"len":76,"cpue":4.5},{"len":77,"cpue":5.4},{"len":78,"cpue":5.7},{"len":79,"cpue":5.8},{"len":80,"cpue":5.6},{"len":81,"cpue":6.2},{"len":82,"cpue":6.6},{"len":83,"cpue":6.0},{"len":84,"cpue":5.3},{"len":85,"cpue":5.2},{"len":86,"cpue":4.8},{"len":87,"cpue":4.6},{"len":88,"cpue":4.5},{"len":89,"cpue":4.3},{"len":90,"cpue":4.2},{"len":91,"cpue":4.0},{"len":92,"cpue":3.9},{"len":93,"cpue":3.8},{"len":94,"cpue":3.7},{"len":95,"cpue":3.8},{"len":96,"cpue":3.9},{"len":97,"cpue":3.7},{"len":98,"cpue":3.8},{"len":99,"cpue":4.0},{"len":100,"cpue":3.9},{"len":101,"cpue":3.1},{"len":102,"cpue":2.9},{"len":103,"cpue":2.5},{"len":104,"cpue":2.3},{"len":105,"cpue":2.1},{"len":106,"cpue":1.5},{"len":107,"cpue":1.1},{"len":108,"cpue":0.8},{"len":109,"cpue":0.5},{"len":110,"cpue":0.4},{"len":111,"cpue":0.3},{"len":112,"cpue":0.2},{"len":113,"cpue":0.3},{"len":114,"cpue":0.2},{"len":115,"cpue":0.1},{"len":116,"cpue":0},{"len":117,"cpue":0},{"len":118,"cpue":0},{"len":119,"cpue":0},{"len":120,"cpue":0},{"len":121,"cpue":0},{"len":122,"cpue":0}],
"aug2008":[{"len":50,"cpue":0},{"len":51,"cpue":0},{"len":52,"cpue":0},{"len":53,"cpue":0},{"len":54,"cpue":0},{"len":55,"cpue":0},{"len":56,"cpue":0.2},{"len":57,"cpue":0.3},{"len":58,"cpue":0.5},{"len":59,"cpue":0.6},{"len":60,"cpue":0.8},{"len":61,"cpue":1.0},{"len":62,"cpue":1.2},{"len":63,"cpue":1.5},{"len":64,"cpue":1.7},{"len":65,"cpue":1.9},{"len":66,"cpue":2.0},{"len":67,"cpue":2.2},{"len":68,"cpue":2.6},{"len":69,"cpue":2.5},{"len":70,"cpue":2.9},{"len":71,"cpue":3.3},{"len":72,"cpue":3.0},{"len":73,"cpue":3.6},{"len":74,"cpue":4.4},{"len":75,"cpue":4.0},{"len":76,"cpue":5.0},{"len":77,"cpue":5.6},{"len":78,"cpue":6.3},{"len":79,"cpue":7.5},{"len":80,"cpue":6.8},{"len":81,"cpue":6.0},{"len":82,"cpue":5.4},{"len":83,"cpue":4.7},{"len":84,"cpue":4.0},{"len":85,"cpue":3.2},{"len":86,"cpue":3.5},{"len":87,"cpue":3.0},{"len":88,"cpue":3.3},{"len":89,"cpue":2.8},{"len":90,"cpue":2.3},{"len":91,"cpue":2.0},{"len":92,"cpue":1.7},{"len":93,"cpue":1.4},{"len":94,"cpue":1.4},{"len":95,"cpue":1.2},{"len":96,"cpue":1.2},{"len":97,"cpue":1.3},{"len":98,"cpue":1.4},{"len":99,"cpue":1.5},{"len":100,"cpue":1.7},{"len":101,"cpue":1.4},{"len":102,"cpue":1.0},{"len":103,"cpue":1.1},{"len":104,"cpue":0.8},{"len":105,"cpue":0.9},{"len":106,"cpue":0.7},{"len":107,"cpue":0.6},{"len":108,"cpue":0.7},{"len":109,"cpue":0.5},{"len":110,"cpue":0.2},{"len":111,"cpue":0},{"len":112,"cpue":0}],
"feb2009":[{"len":50,"cpue":0},{"len":51,"cpue":0.3},{"len":52,"cpue":0.3},{"len":53,"cpue":0},{"len":54,"cpue":0},{"len":55,"cpue":0.2},{"len":56,"cpue":0.2},{"len":57,"cpue":0.3},{"len":58,"cpue":0.3},{"len":59,"cpue":0.3},{"len":60,"cpue":0.3},{"len":61,"cpue":0.4},{"len":62,"cpue":0.4},{"len":63,"cpue":0.5},{"len":64,"cpue":0.5},{"len":65,"cpue":0.6},{"len":66,"cpue":0.7},{"len":67,"cpue":0.7},{"len":68,"cpue":0.8},{"len":69,"cpue":1.2},{"len":70,"cpue":2.0},{"len":71,"cpue":3.5},{"len":72,"cpue":4.5},{"len":73,"cpue":5.5},{"len":74,"cpue":6.5},{"len":75,"cpue":7.2},{"len":76,"cpue":7.4},{"len":77,"cpue":8.8},{"len":78,"cpue":9.2},{"len":79,"cpue":9.0},{"len":80,"cpue":6.8},{"len":81,"cpue":5.8},{"len":82,"cpue":5.7},{"len":83,"cpue":5.9},{"len":84,"cpue":6.1},{"len":85,"cpue":6.0},{"len":86,"cpue":6.5},{"len":87,"cpue":6.9},{"len":88,"cpue":7.1},{"len":89,"cpue":6.7},{"len":90,"cpue":6.0},{"len":91,"cpue":5.1},{"len":92,"cpue":4.9},{"len":93,"cpue":5.0},{"len":94,"cpue":5.3},{"len":95,"cpue":5.6},{"len":96,"cpue":6.0},{"len":97,"cpue":6.3},{"len":98,"cpue":6.5},{"len":99,"cpue":6.7},{"len":100,"cpue":7.0},{"len":101,"cpue":7.2},{"len":102,"cpue":6.9},{"len":103,"cpue":6.3},{"len":104,"cpue":5.8},{"len":105,"cpue":5.0},{"len":106,"cpue":4.7},{"len":107,"cpue":4.4},{"len":108,"cpue":4.0},{"len":109,"cpue":3.4},{"len":110,"cpue":2.6},{"len":111,"cpue":1.9},{"len":112,"cpue":1.3},{"len":113,"cpue":0.9},{"len":114,"cpue":0.6},{"len":115,"cpue":0.5},{"len":116,"cpue":0.4},{"len":117,"cpue":0.3},{"len":118,"cpue":0.3},{"len":119,"cpue":0.2},{"len":120,"cpue":0},{"len":121,"cpue":0},{"len":122,"cpue":0},{"len":123,"cpue":0},{"len":124,"cpue":0},{"len":125,"cpue":0}],
"may2009":[{"len":50,"cpue":0},{"len":51,"cpue":0},{"len":52,"cpue":0},{"len":53,"cpue":0},{"len":54,"cpue":0},{"len":55,"cpue":0},{"len":56,"cpue":0},{"len":57,"cpue":0},{"len":58,"cpue":0},{"len":59,"cpue":0},{"len":60,"cpue":0},{"len":61,"cpue":0.2},{"len":62,"cpue":0.3},{"len":63,"cpue":0.3},{"len":64,"cpue":0.5},{"len":65,"cpue":0.8},{"len":66,"cpue":1.2},{"len":67,"cpue":1.6},{"len":68,"cpue":2.0},{"len":69,"cpue":2.6},{"len":70,"cpue":3.2},{"len":71,"cpue":3.8},{"len":72,"cpue":4.5},{"len":73,"cpue":5.2},{"len":74,"cpue":6.0},{"len":75,"cpue":6.6},{"len":76,"cpue":7.2},{"len":77,"cpue":7.6},{"len":78,"cpue":8.0},{"len":79,"cpue":8.5},{"len":80,"cpue":8.8},{"len":81,"cpue":9.0},{"len":82,"cpue":9.3},{"len":83,"cpue":9.2},{"len":84,"cpue":8.9},{"len":85,"cpue":8.5},{"len":86,"cpue":8.0},{"len":87,"cpue":7.3},{"len":88,"cpue":6.6},{"len":89,"cpue":6.1},{"len":90,"cpue":5.6},{"len":91,"cpue":5.5},{"len":92,"cpue":5.4},{"len":93,"cpue":5.3},{"len":94,"cpue":5.2},{"len":95,"cpue":5.1},{"len":96,"cpue":5.0},{"len":97,"cpue":4.6},{"len":98,"cpue":4.0},{"len":99,"cpue":3.5},{"len":100,"cpue":3.3},{"len":101,"cpue":3.7},{"len":102,"cpue":3.8},{"len":103,"cpue":3.4},{"len":104,"cpue":3.0},{"len":105,"cpue":2.6},{"len":106,"cpue":2.2},{"len":107,"cpue":1.9},{"len":108,"cpue":1.6},{"len":109,"cpue":1.4},{"len":110,"cpue":1.5},{"len":111,"cpue":1.6},{"len":112,"cpue":1.2},{"len":113,"cpue":0.8},{"len":114,"cpue":0.5},{"len":115,"cpue":0.4},{"len":116,"cpue":0.3},{"len":117,"cpue":0.2},{"len":118,"cpue":0.1},{"len":119,"cpue":0},{"len":120,"cpue":0},{"len":121,"cpue":0},{"len":122,"cpue":0},{"len":123,"cpue":0},{"len":124,"cpue":0},{"len":125,"cpue":0},{"len":126,"cpue":0},{"len":127,"cpue":0}],
"aug2009":[{"len":50,"cpue":0},{"len":51,"cpue":0},{"len":52,"cpue":0},{"len":53,"cpue":0},{"len":54,"cpue":0},{"len":55,"cpue":0},{"len":56,"cpue":0},{"len":57,"cpue":0},{"len":58,"cpue":0},{"len":59,"cpue":0},{"len":60,"cpue":0.2},{"len":61,"cpue":0.2},{"len":62,"cpue":0.3},{"len":63,"cpue":0.5},{"len":64,"cpue":0.7},{"len":65,"cpue":1.0},{"len":66,"cpue":1.5},{"len":67,"cpue":1.5},{"len":68,"cpue":2.0},{"len":69,"cpue":2.5},{"len":70,"cpue":2.8},{"len":71,"cpue":3.2},{"len":72,"cpue":3.6},{"len":73,"cpue":4.3},{"len":74,"cpue":5.0},{"len":75,"cpue":5.4},{"len":76,"cpue":5.6},{"len":77,"cpue":5.3},{"len":78,"cpue":5.0},{"len":79,"cpue":5.1},{"len":80,"cpue":6.2},{"len":81,"cpue":7.0},{"len":82,"cpue":7.6},{"len":83,"cpue":8.3},{"len":84,"cpue":8.9},{"len":85,"cpue":9.2},{"len":86,"cpue":9.0},{"len":87,"cpue":8.6},{"len":88,"cpue":8.3},{"len":89,"cpue":5.6},{"len":90,"cpue":5.4},{"len":91,"cpue":5.5},{"len":92,"cpue":5.6},{"len":93,"cpue":4.0},{"len":94,"cpue":3.6},{"len":95,"cpue":3.4},{"len":96,"cpue":3.1},{"len":97,"cpue":3.0},{"len":98,"cpue":3.3},{"len":99,"cpue":3.1},{"len":100,"cpue":2.7},{"len":101,"cpue":2.4},{"len":102,"cpue":2.1},{"len":103,"cpue":1.8},{"len":104,"cpue":1.6},{"len":105,"cpue":1.3},{"len":106,"cpue":1.1},{"len":107,"cpue":0.8},{"len":108,"cpue":0.6},{"len":109,"cpue":0.6},{"len":110,"cpue":0.5},{"len":111,"cpue":0.3},{"len":112,"cpue":0.4},{"len":113,"cpue":0.4},{"len":114,"cpue":0.2},{"len":115,"cpue":0.1},{"len":116,"cpue":0.3},{"len":117,"cpue":0.3},{"len":118,"cpue":0.1},{"len":119,"cpue":0},{"len":120,"cpue":0},{"len":121,"cpue":0},{"len":122,"cpue":0},{"len":123,"cpue":0},{"len":124,"cpue":0}],
"feb2010":[{"len":55,"cpue":0},{"len":56,"cpue":0},{"len":60,"cpue":0},{"len":61,"cpue":0},{"len":62,"cpue":0},{"len":63,"cpue":0},{"len":64,"cpue":0},{"len":65,"cpue":0},{"len":66,"cpue":0},{"len":67,"cpue":0.2},{"len":68,"cpue":0.3},{"len":69,"cpue":0.4},{"len":70,"cpue":0.5},{"len":71,"cpue":0.7},{"len":72,"cpue":0.9},{"len":73,"cpue":1.1},{"len":74,"cpue":1.4},{"len":75,"cpue":1.8},{"len":76,"cpue":2.3},{"len":77,"cpue":2.9},{"len":78,"cpue":3.9},{"len":79,"cpue":3.7},{"len":80,"cpue":2.8},{"len":81,"cpue":2.5},{"len":82,"cpue":2.0},{"len":83,"cpue":2.1},{"len":84,"cpue":2.3},{"len":85,"cpue":2.1},{"len":86,"cpue":2.4},{"len":87,"cpue":2.3},{"len":88,"cpue":2.2},{"len":89,"cpue":2.4},{"len":90,"cpue":2.3},{"len":91,"cpue":2.4},{"len":92,"cpue":2.2},{"len":93,"cpue":2.0},{"len":94,"cpue":2.2},{"len":95,"cpue":2.5},{"len":96,"cpue":2.4},{"len":97,"cpue":2.6},{"len":98,"cpue":2.6},{"len":99,"cpue":2.8},{"len":100,"cpue":2.4},{"len":101,"cpue":2.0},{"len":102,"cpue":1.6},{"len":103,"cpue":1.4},{"len":104,"cpue":1.3},{"len":105,"cpue":1.2},{"len":106,"cpue":1.0},{"len":107,"cpue":0.9},{"len":108,"cpue":0.7},{"len":109,"cpue":0.5},{"len":110,"cpue":0.4},{"len":111,"cpue":0.3},{"len":112,"cpue":0.4},{"len":113,"cpue":0.2},{"len":114,"cpue":0.3},{"len":115,"cpue":0.1},{"len":116,"cpue":0},{"len":117,"cpue":0},{"len":118,"cpue":0},{"len":119,"cpue":0},{"len":120,"cpue":0},{"len":121,"cpue":0},{"len":122,"cpue":0},{"len":123,"cpue":0},{"len":124,"cpue":0}],
"may2010":[{"len":50,"cpue":0},{"len":51,"cpue":0},{"len":52,"cpue":0},{"len":53,"cpue":0},{"len":54,"cpue":0},{"len":55,"cpue":0},{"len":56,"cpue":0},{"len":57,"cpue":0},{"len":58,"cpue":0},{"len":59,"cpue":0},{"len":60,"cpue":0},{"len":61,"cpue":0},{"len":62,"cpue":0.2},{"len":63,"cpue":0.3},{"len":64,"cpue":0.3},{"len":65,"cpue":0.4},{"len":66,"cpue":0.6},{"len":67,"cpue":0.8},{"len":68,"cpue":1.0},{"len":69,"cpue":1.3},{"len":70,"cpue":1.6},{"len":71,"cpue":1.9},{"len":72,"cpue":2.2},{"len":73,"cpue":2.6},{"len":74,"cpue":3.2},{"len":75,"cpue":4.0},{"len":76,"cpue":5.2},{"len":77,"cpue":6.5},{"len":78,"cpue":7.6},{"len":79,"cpue":8.5},{"len":80,"cpue":9.1},{"len":81,"cpue":9.5},{"len":82,"cpue":9.6},{"len":83,"cpue":9.7},{"len":84,"cpue":9.8},{"len":85,"cpue":9.7},{"len":86,"cpue":10.0},{"len":87,"cpue":10.0},{"len":88,"cpue":10.1},{"len":89,"cpue":10.3},{"len":90,"cpue":10.0},{"len":91,"cpue":10.4},{"len":92,"cpue":10.2},{"len":93,"cpue":10.6},{"len":94,"cpue":10.5},{"len":95,"cpue":10.8},{"len":96,"cpue":10.6},{"len":97,"cpue":10.2},{"len":98,"cpue":9.5},{"len":99,"cpue":8.7},{"len":100,"cpue":7.8},{"len":101,"cpue":7.0},{"len":102,"cpue":6.4},{"len":103,"cpue":5.8},{"len":104,"cpue":5.2},{"len":105,"cpue":4.8},{"len":106,"cpue":4.4},{"len":107,"cpue":3.8},{"len":108,"cpue":3.3},{"len":109,"cpue":3.0},{"len":110,"cpue":3.6},{"len":111,"cpue":3.3},{"len":112,"cpue":2.5},{"len":113,"cpue":1.8},{"len":114,"cpue":1.3},{"len":115,"cpue":1.0},{"len":116,"cpue":0.7},{"len":117,"cpue":0.5},{"len":118,"cpue":0.3},{"len":119,"cpue":0.2},{"len":120,"cpue":0},{"len":121,"cpue":0},{"len":122,"cpue":0},{"len":123,"cpue":0},{"len":124,"cpue":0},{"len":125,"cpue":0},{"len":126,"cpue":0},{"len":127,"cpue":0},{"len":128,"cpue":0},{"len":129,"cpue":0}],
"aug2010":[{"len":50,"cpue":0.3},{"len":51,"cpue":0.6},{"len":52,"cpue":0.5},{"len":53,"cpue":0.9},{"len":54,"cpue":1.0},{"len":55,"cpue":0.8},{"len":56,"cpue":0.5},{"len":57,"cpue":0.4},{"len":58,"cpue":0.5},{"len":59,"cpue":0.3},{"len":60,"cpue":0.4},{"len":61,"cpue":0.5},{"len":62,"cpue":0.5},{"len":63,"cpue":0.6},{"len":64,"cpue":0.5},{"len":65,"cpue":0.8},{"len":66,"cpue":0.8},{"len":67,"cpue":0.8},{"len":68,"cpue":0.9},{"len":69,"cpue":1.2},{"len":70,"cpue":1.4},{"len":71,"cpue":1.9},{"len":72,"cpue":2.1},{"len":73,"cpue":1.8},{"len":74,"cpue":1.8},{"len":75,"cpue":2.4},{"len":76,"cpue":3.1},{"len":77,"cpue":3.5},{"len":78,"cpue":4.3},{"len":79,"cpue":5.0},{"len":80,"cpue":5.2},{"len":81,"cpue":4.9},{"len":82,"cpue":5.8},{"len":83,"cpue":6.0},{"len":84,"cpue":6.5},{"len":85,"cpue":5.8},{"len":86,"cpue":6.6},{"len":87,"cpue":6.4},{"len":88,"cpue":7.0},{"len":89,"cpue":8.0},{"len":90,"cpue":7.6},{"len":91,"cpue":7.8},{"len":92,"cpue":7.3},{"len":93,"cpue":6.6},{"len":94,"cpue":6.3},{"len":95,"cpue":6.2},{"len":96,"cpue":5.9},{"len":97,"cpue":5.8},{"len":98,"cpue":5.5},{"len":99,"cpue":6.1},{"len":100,"cpue":5.9},{"len":101,"cpue":3.4},{"len":102,"cpue":3.4},{"len":103,"cpue":2.0},{"len":104,"cpue":1.9},{"len":105,"cpue":1.3},{"len":106,"cpue":1.2},{"len":107,"cpue":1.0},{"len":108,"cpue":0.9},{"len":109,"cpue":0.9},{"len":110,"cpue":0.6},{"len":111,"cpue":0.5},{"len":112,"cpue":0.5},{"len":113,"cpue":0.7},{"len":114,"cpue":0.4},{"len":115,"cpue":0.4},{"len":116,"cpue":0.5},{"len":117,"cpue":0.3},{"len":118,"cpue":0.4},{"len":119,"cpue":0.2},{"len":120,"cpue":0},{"len":121,"cpue":0}],
"feb2011":[{"len":59,"cpue":0},{"len":60,"cpue":0},{"len":61,"cpue":0},{"len":62,"cpue":0},{"len":63,"cpue":0},{"len":64,"cpue":0},{"len":65,"cpue":0},{"len":66,"cpue":0.2},{"len":67,"cpue":0.3},{"len":68,"cpue":0.3},{"len":69,"cpue":0.5},{"len":70,"cpue":0.8},{"len":71,"cpue":1.2},{"len":72,"cpue":2.0},{"len":73,"cpue":3.0},{"len":74,"cpue":5.5},{"len":75,"cpue":9.0},{"len":76,"cpue":10.5},{"len":77,"cpue":15.5},{"len":78,"cpue":18.9},{"len":79,"cpue":16.5},{"len":80,"cpue":12.0},{"len":81,"cpue":7.4},{"len":82,"cpue":7.1},{"len":83,"cpue":7.5},{"len":84,"cpue":9.8},{"len":85,"cpue":11.5},{"len":86,"cpue":12.3},{"len":87,"cpue":11.5},{"len":88,"cpue":10.2},{"len":89,"cpue":8.8},{"len":90,"cpue":8.0},{"len":91,"cpue":7.4},{"len":92,"cpue":6.9},{"len":93,"cpue":6.7},{"len":94,"cpue":6.6},{"len":95,"cpue":6.4},{"len":96,"cpue":6.3},{"len":97,"cpue":6.0},{"len":98,"cpue":5.5},{"len":99,"cpue":5.4},{"len":100,"cpue":5.2},{"len":101,"cpue":4.5},{"len":102,"cpue":4.2},{"len":103,"cpue":4.0},{"len":104,"cpue":3.8},{"len":105,"cpue":3.5},{"len":106,"cpue":3.0},{"len":107,"cpue":2.2},{"len":108,"cpue":1.8},{"len":109,"cpue":1.3},{"len":110,"cpue":1.4},{"len":111,"cpue":1.7},{"len":112,"cpue":1.8},{"len":113,"cpue":1.6},{"len":114,"cpue":1.2},{"len":115,"cpue":1.0},{"len":116,"cpue":0.7},{"len":117,"cpue":0.5},{"len":118,"cpue":0.5},{"len":119,"cpue":0.3},{"len":120,"cpue":0.3},{"len":121,"cpue":0.1},{"len":122,"cpue":0},{"len":123,"cpue":0},{"len":124,"cpue":0},{"len":125,"cpue":0},{"len":126,"cpue":0},{"len":127,"cpue":0}],
"may2011":[{"len":50,"cpue":0},{"len":51,"cpue":0},{"len":52,"cpue":0.4},{"len":53,"cpue":0.4},{"len":54,"cpue":0.3},{"len":55,"cpue":0.3},{"len":56,"cpue":0.2},{"len":57,"cpue":0},{"len":58,"cpue":0},{"len":59,"cpue":0},{"len":60,"cpue":0},{"len":61,"cpue":0},{"len":62,"cpue":0},{"len":63,"cpue":0},{"len":64,"cpue":0},{"len":65,"cpue":0},{"len":66,"cpue":0},{"len":67,"cpue":0},{"len":68,"cpue":0},{"len":69,"cpue":0},{"len":70,"cpue":0},{"len":71,"cpue":0},{"len":72,"cpue":0.3},{"len":73,"cpue":0.5},{"len":74,"cpue":1.2},{"len":75,"cpue":2.5},{"len":76,"cpue":3.6},{"len":77,"cpue":5.5},{"len":78,"cpue":7.3},{"len":79,"cpue":7.9},{"len":80,"cpue":7.5},{"len":81,"cpue":6.8},{"len":82,"cpue":7.2},{"len":83,"cpue":7.3},{"len":84,"cpue":7.3},{"len":85,"cpue":7.2},{"len":86,"cpue":7.4},{"len":87,"cpue":7.2},{"len":88,"cpue":7.1},{"len":89,"cpue":7.0},{"len":90,"cpue":6.9},{"len":91,"cpue":6.7},{"len":92,"cpue":6.5},{"len":93,"cpue":6.8},{"len":94,"cpue":7.2},{"len":95,"cpue":6.9},{"len":96,"cpue":6.1},{"len":97,"cpue":5.5},{"len":98,"cpue":5.0},{"len":99,"cpue":4.6},{"len":100,"cpue":4.2},{"len":101,"cpue":3.6},{"len":102,"cpue":3.1},{"len":103,"cpue":2.7},{"len":104,"cpue":2.3},{"len":105,"cpue":1.9},{"len":106,"cpue":1.5},{"len":107,"cpue":1.2},{"len":108,"cpue":1.1},{"len":109,"cpue":1.1},{"len":110,"cpue":1.0},{"len":111,"cpue":0.9},{"len":112,"cpue":0.7},{"len":113,"cpue":0.9},{"len":114,"cpue":0.9},{"len":115,"cpue":0.7},{"len":116,"cpue":0.4},{"len":117,"cpue":0.3},{"len":118,"cpue":0.2},{"len":119,"cpue":0.2},{"len":120,"cpue":0},{"len":121,"cpue":0},{"len":122,"cpue":0},{"len":123,"cpue":0},{"len":124,"cpue":0},{"len":125,"cpue":0}],
"aug2011":[{"len":50,"cpue":0},{"len":51,"cpue":0},{"len":52,"cpue":0},{"len":53,"cpue":0},{"len":54,"cpue":0},{"len":55,"cpue":0.2},{"len":56,"cpue":0.3},{"len":57,"cpue":0.3},{"len":58,"cpue":0.2},{"len":59,"cpue":0.4},{"len":60,"cpue":0.5},{"len":61,"cpue":0.3},{"len":62,"cpue":0.3},{"len":63,"cpue":0.2},{"len":64,"cpue":0},{"len":65,"cpue":0},{"len":66,"cpue":0},{"len":67,"cpue":0.3},{"len":68,"cpue":0.4},{"len":69,"cpue":0.5},{"len":70,"cpue":1.0},{"len":71,"cpue":1.3},{"len":72,"cpue":2.0},{"len":73,"cpue":2.8},{"len":74,"cpue":3.5},{"len":75,"cpue":4.0},{"len":76,"cpue":5.5},{"len":77,"cpue":6.5},{"len":78,"cpue":8.0},{"len":79,"cpue":9.2},{"len":80,"cpue":9.6},{"len":81,"cpue":9.8},{"len":82,"cpue":9.7},{"len":83,"cpue":9.8},{"len":84,"cpue":9.4},{"len":85,"cpue":9.1},{"len":86,"cpue":8.5},{"len":87,"cpue":7.8},{"len":88,"cpue":7.6},{"len":89,"cpue":8.5},{"len":90,"cpue":8.4},{"len":91,"cpue":8.1},{"len":92,"cpue":7.3},{"len":93,"cpue":7.2},{"len":94,"cpue":7.2},{"len":95,"cpue":6.5},{"len":96,"cpue":6.3},{"len":97,"cpue":6.2},{"len":98,"cpue":5.8},{"len":99,"cpue":5.2},{"len":100,"cpue":4.4},{"len":101,"cpue":4.0},{"len":102,"cpue":3.8},{"len":103,"cpue":3.6},{"len":104,"cpue":3.3},{"len":105,"cpue":3.0},{"len":106,"cpue":2.8},{"len":107,"cpue":2.6},{"len":108,"cpue":2.3},{"len":109,"cpue":2.1},{"len":110,"cpue":1.8},{"len":111,"cpue":1.3},{"len":112,"cpue":1.2},{"len":113,"cpue":0.9},{"len":114,"cpue":0.9},{"len":115,"cpue":0.8},{"len":116,"cpue":0.5},{"len":117,"cpue":0.4},{"len":118,"cpue":0.3},{"len":119,"cpue":0.1},{"len":120,"cpue":0},{"len":121,"cpue":0},{"len":128,"cpue":0.2}],
"feb2012":[{"len":60,"cpue":0},{"len":61,"cpue":0},{"len":62,"cpue":0},{"len":63,"cpue":0},{"len":64,"cpue":0},{"len":65,"cpue":0},{"len":66,"cpue":0},{"len":67,"cpue":0},{"len":68,"cpue":0},{"len":69,"cpue":0.2},{"len":70,"cpue":0.3},{"len":71,"cpue":0.4},{"len":72,"cpue":0.5},{"len":73,"cpue":0.7},{"len":74,"cpue":1.0},{"len":75,"cpue":1.4},{"len":76,"cpue":2.0},{"len":77,"cpue":3.0},{"len":78,"cpue":3.4},{"len":79,"cpue":3.5},{"len":80,"cpue":3.4},{"len":81,"cpue":3.7},{"len":82,"cpue":4.1},{"len":83,"cpue":4.3},{"len":84,"cpue":4.2},{"len":85,"cpue":4.2},{"len":86,"cpue":4.1},{"len":87,"cpue":4.1},{"len":88,"cpue":3.9},{"len":89,"cpue":3.8},{"len":90,"cpue":3.7},{"len":91,"cpue":3.9},{"len":92,"cpue":4.2},{"len":93,"cpue":4.6},{"len":94,"cpue":4.9},{"len":95,"cpue":5.0},{"len":96,"cpue":5.0},{"len":97,"cpue":4.9},{"len":98,"cpue":4.8},{"len":99,"cpue":4.5},{"len":100,"cpue":4.2},{"len":101,"cpue":3.8},{"len":102,"cpue":3.3},{"len":103,"cpue":3.0},{"len":104,"cpue":2.7},{"len":105,"cpue":2.3},{"len":106,"cpue":2.0},{"len":107,"cpue":1.8},{"len":108,"cpue":1.5},{"len":109,"cpue":1.4},{"len":110,"cpue":1.0},{"len":111,"cpue":0.8},{"len":112,"cpue":0.8},{"len":113,"cpue":0.8},{"len":114,"cpue":0.8},{"len":115,"cpue":0.7},{"len":116,"cpue":0.6},{"len":117,"cpue":0.5},{"len":118,"cpue":0.4},{"len":119,"cpue":0.2},{"len":120,"cpue":0.5},{"len":121,"cpue":0.2},{"len":122,"cpue":0},{"len":123,"cpue":0},{"len":124,"cpue":0},{"len":125,"cpue":0}],
"may2012":[{"len":50,"cpue":0},{"len":51,"cpue":0.3},{"len":52,"cpue":0.2},{"len":53,"cpue":0.3},{"len":54,"cpue":0.2},{"len":55,"cpue":0.3},{"len":56,"cpue":0.3},{"len":57,"cpue":0.2},{"len":58,"cpue":0.3},{"len":59,"cpue":0.3},{"len":60,"cpue":0.3},{"len":61,"cpue":0.3},{"len":62,"cpue":0.3},{"len":63,"cpue":0.4},{"len":64,"cpue":0.4},{"len":65,"cpue":0.5},{"len":66,"cpue":0.7},{"len":67,"cpue":1.0},{"len":68,"cpue":1.5},{"len":69,"cpue":2.2},{"len":70,"cpue":3.0},{"len":71,"cpue":3.8},{"len":72,"cpue":4.5},{"len":73,"cpue":5.3},{"len":74,"cpue":6.0},{"len":75,"cpue":6.8},{"len":76,"cpue":7.2},{"len":77,"cpue":6.9},{"len":78,"cpue":7.4},{"len":79,"cpue":7.6},{"len":80,"cpue":7.0},{"len":81,"cpue":7.8},{"len":82,"cpue":7.3},{"len":83,"cpue":7.2},{"len":84,"cpue":8.0},{"len":85,"cpue":7.5},{"len":86,"cpue":7.0},{"len":87,"cpue":7.8},{"len":88,"cpue":7.4},{"len":89,"cpue":7.0},{"len":90,"cpue":7.5},{"len":91,"cpue":7.6},{"len":92,"cpue":8.0},{"len":93,"cpue":8.3},{"len":94,"cpue":8.8},{"len":95,"cpue":9.8},{"len":96,"cpue":10.5},{"len":97,"cpue":10.0},{"len":98,"cpue":8.5},{"len":99,"cpue":8.0},{"len":100,"cpue":7.8},{"len":101,"cpue":7.9},{"len":102,"cpue":6.8},{"len":103,"cpue":6.2},{"len":104,"cpue":5.5},{"len":105,"cpue":4.8},{"len":106,"cpue":4.0},{"len":107,"cpue":3.3},{"len":108,"cpue":2.6},{"len":109,"cpue":2.0},{"len":110,"cpue":1.6},{"len":111,"cpue":1.3},{"len":112,"cpue":1.0},{"len":113,"cpue":0.8},{"len":114,"cpue":0.6},{"len":115,"cpue":0.5},{"len":116,"cpue":0.5},{"len":117,"cpue":0.4},{"len":118,"cpue":0.4},{"len":119,"cpue":0.3},{"len":120,"cpue":0.3},{"len":121,"cpue":0.2},{"len":122,"cpue":0.2},{"len":123,"cpue":0.2},{"len":124,"cpue":0.1},{"len":125,"cpue":0}]
}
}
